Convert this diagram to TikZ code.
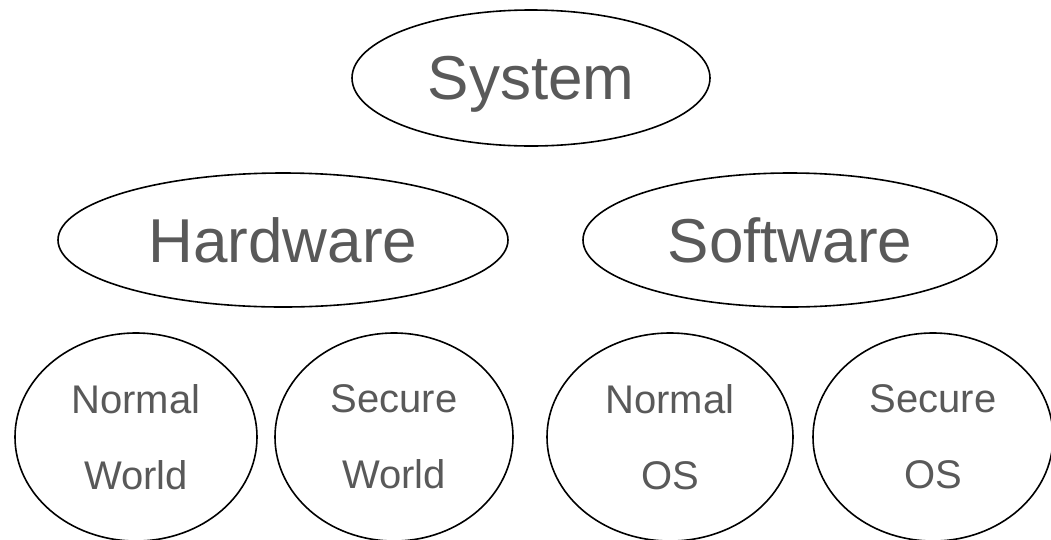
\documentclass[tikz,border=0pt]{standalone}
\usepackage{fontspec}
\setmainfont{Liberation Sans}
\usepackage{tikz}
\usetikzlibrary{shapes.geometric}
\definecolor{labelgray}{RGB}{89,89,89}
\newcommand{\bigfont}{\fontsize{62}{62}\selectfont}
\newcommand{\smallfont}{\fontsize{40}{76}\selectfont}
\newcommand{\lowy}{437}
\newcommand{\lowry}{208pt}

\begin{document}
\begin{tikzpicture}[x=1pt,y=-1pt,
    part/.style={ellipse,draw,line width=1.6pt,inner sep=0pt,
      text=labelgray,text depth=0pt},
    toppart/.style={part,font=\bigfont},
    lowpart/.style={part,font=\smallfont,align=center,minimum height=\lowry}]
    \useasboundingbox (0,0) rectangle (1051,539);

    % top level
    \node[toppart,minimum width=358pt,minimum height=136pt] (sys) at (531,78) {System};

    % hardware and software
    \node[toppart,minimum width=450pt,minimum height=134pt] (hw) at (283,240) {Hardware};
    \node[toppart,minimum width=414pt,minimum height=134pt] (sw) at (790,240) {Software};

    % worlds and os
    \node[lowpart,minimum width=242pt] (hwnormal) at (136,\lowy) {Normal\\World};
    \node[lowpart,minimum width=238pt] (hwsecure) at (394,\lowy) {Secure\\World};
    \node[lowpart,minimum width=246pt] (swnormal) at (670,\lowy) {Normal\\OS};
    \node[lowpart,minimum width=240pt] (swsecure) at (933,\lowy) {Secure\\OS};
  \end{tikzpicture}
\end{document}
